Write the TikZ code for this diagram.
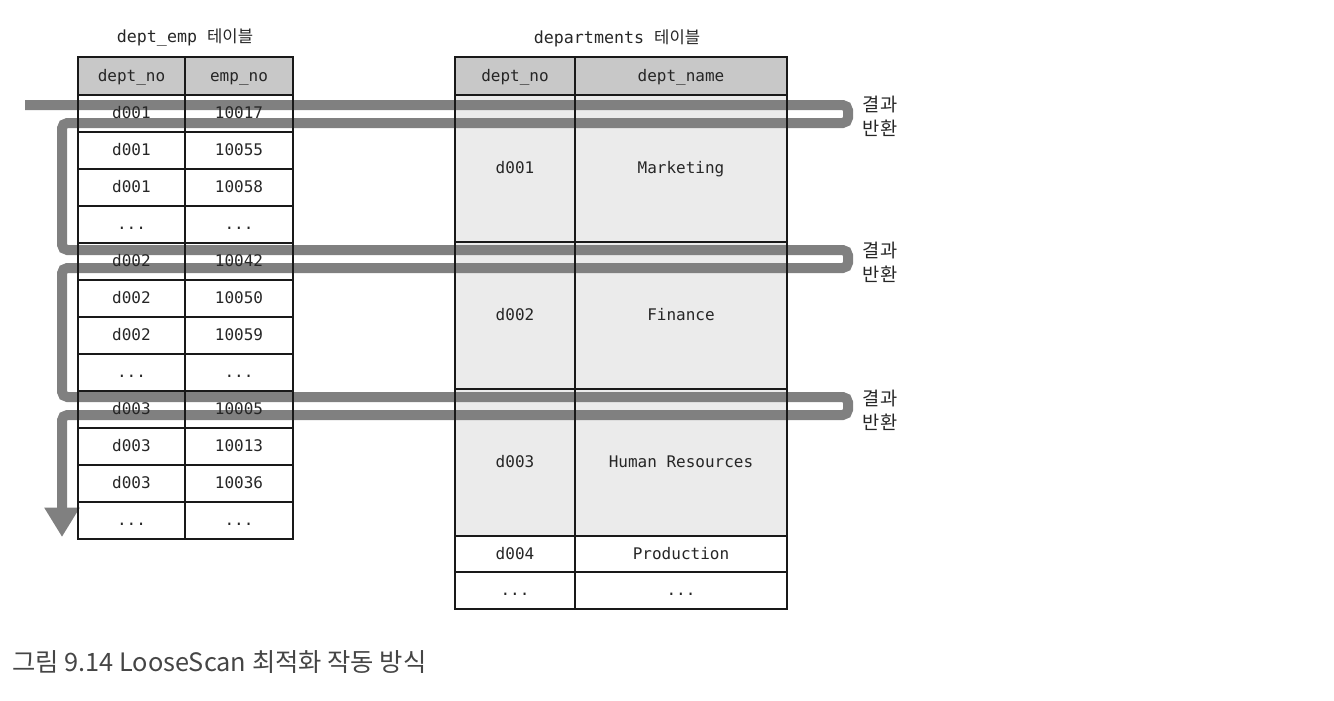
\documentclass[tikz,border=0pt]{standalone}
\usepackage{fontspec}
\setmonofont{DejaVu Sans Mono}
\newfontfamily\kor{Noto Sans CJK KR}
\usetikzlibrary{arrows.meta}
\pgfdeclarelayer{back}
\pgfdeclarelayer{mid}
\pgfsetlayers{back,mid,main}
\definecolor{hdrgray}{HTML}{C8C8C8}
\definecolor{grpgray}{HTML}{EBEBEB}
\definecolor{bandgray}{HTML}{808080}
\definecolor{capgray}{HTML}{454545}
\newcommand\tdots{...}
\begin{document}
\begin{tikzpicture}[x=0.75pt,y=-0.75pt,
	cell/.style={draw=black!90,line width=1.1pt,inner sep=0pt,text=black!85,
		text height=8.5pt,text depth=0.5pt,font=\ttfamily\fontsize{12}{14}\selectfont},
	lcol/.style={cell,minimum width=80.25pt,minimum height=27.75pt},
	rcol/.style={cell,minimum width=81pt,minimum height=27.75pt},
	title/.style={font=\ttfamily\fontsize{12.5}{14}\selectfont,text=black!85},
	result/.style={align=center,text=black!85,font=\kor\fontsize{14}{18}\selectfont},
	band/.style={draw=bandgray,line width=7.5pt,rounded corners=4pt,
		-{Triangle[width=25pt,length=22pt]}}
]
\useasboundingbox (0,0) rectangle (1334,700);

\node[title] (lt) at (185,38) {dept\_emp {\kor 테이블}};
\node[title] (rt) at (617,38) {departments {\kor 테이블}};

\node[lcol,minimum height=28.5pt] (ah) at (131.5,76) {dept\_no};
\node[rcol,minimum height=28.5pt] (bh) at (239,76) {emp\_no};
\foreach \dn/\en [count=\i] in {d001/10017,d001/10055,d001/10058,\tdots/\tdots,
	d002/10042,d002/10050,d002/10059,\tdots/\tdots,
	d003/10005,d003/10013,d003/10036,\tdots/\tdots}{
	\node[lcol] (a\i) at (131.5,76.5+37*\i) {\dn};
	\node[rcol] (b\i) at (239,76.5+37*\i) {\en};
}

\node[cell,minimum width=90pt,minimum height=28.5pt] (ch) at (515,76) {dept\_no};
\node[cell,minimum width=159pt,minimum height=28.5pt] (dh) at (681,76) {dept\_name};
\foreach \dn/\nm/\yc/\h [count=\i] in {d001/Marketing/168.5/147,
	d002/Finance/315.5/147,d003/Human Resources/462.5/147,
	d004/Production/554/36,\tdots/\tdots/590.5/37}{
	\node[cell,minimum width=90pt,minimum height=\h*0.75pt] (c\i) at (515,\yc) {\dn};
	\node[cell,minimum width=159pt,minimum height=\h*0.75pt] (d\i) at (681,\yc) {\nm};
}

\begin{pgfonlayer}{back}
	\fill[hdrgray] (ah.north west) rectangle (bh.south east);
	\fill[hdrgray] (ch.north west) rectangle (dh.south east);
	\foreach \i in {1,2,3}
		\fill[grpgray] (c\i.north west) rectangle (d\i.south east);
\end{pgfonlayer}

\coordinate (scanstart) at (25,105);
\coordinate (scanend) at (62,537);
\begin{pgfonlayer}{mid}
	\draw[band] (scanstart) -- (848,105) -- (848,123) -- (62,123)
		-- (62,250) -- (848,250) -- (848,268) -- (62,268)
		-- (62,397) -- (848,397) -- (848,415) -- (62,415) -- (scanend);
\end{pgfonlayer}

\node[result] (res1) at (880,116) {결과\\반환};
\node[result] (res2) at (880,262) {결과\\반환};
\node[result] (res3) at (880,410) {결과\\반환};

\node[anchor=west,inner sep=0pt,text=capgray,font=\kor\fontsize{19}{22}\selectfont]
	(cap) at (12,662) {그림 9.14 LooseScan 최적화 작동 방식};
\end{tikzpicture}
\end{document}
